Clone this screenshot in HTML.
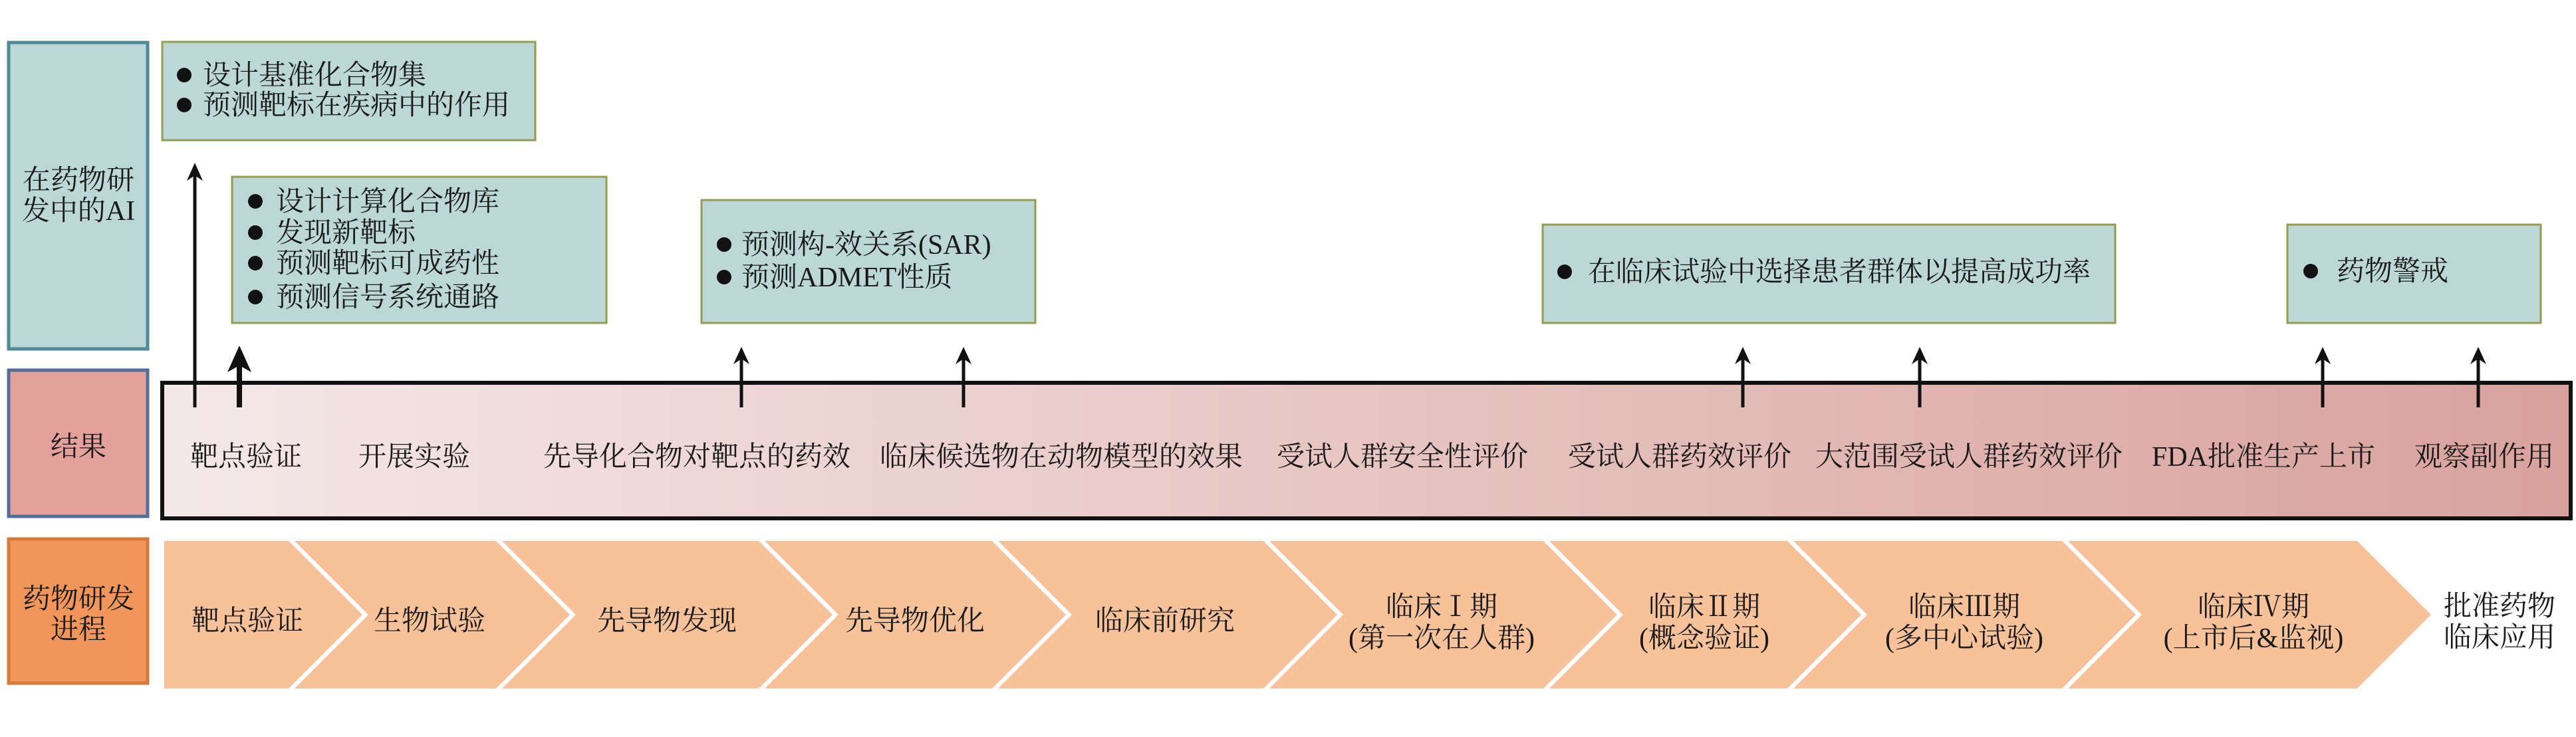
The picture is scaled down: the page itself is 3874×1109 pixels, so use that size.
<!DOCTYPE html>
<html><head><meta charset="utf-8"><style>
html,body{margin:0;padding:0;background:#fff;}
svg text{font-family:"Liberation Serif","Noto Serif CJK SC",serif;font-size:42px;fill:#1a1a1a;}
</style></head><body>
<svg width="3874" height="1104" viewBox="0 0 3874 1104" xmlns="http://www.w3.org/2000/svg">
<defs>
<linearGradient id="g" x1="0" x2="1" y1="0" y2="0">
<stop offset="0" stop-color="#f4e8e8"/><stop offset="1" stop-color="#d9a29d"/>
</linearGradient>
</defs>
<rect x="13" y="64" width="209" height="461" fill="#bcd8d6" stroke="#4c8a98" stroke-width="5"/>
<text x="118" y="285" text-anchor="middle">在药物研</text>
<text x="118" y="331" text-anchor="middle">发中的AI</text>
<rect x="13" y="557" width="209" height="220" fill="#e4a19c" stroke="#50709a" stroke-width="5"/>
<text x="118" y="686" text-anchor="middle">结果</text>
<rect x="13" y="811" width="209" height="217" fill="#f0965a" stroke="#d57a3c" stroke-width="5"/>
<text x="118" y="915" text-anchor="middle">药物研发</text>
<text x="118" y="961" text-anchor="middle">进程</text>

<g fill="#bcd8d6" stroke="#949c50" stroke-width="3">
<rect x="244" y="63" width="561" height="148"/>
<rect x="349" y="266" width="563" height="220"/>
<rect x="1055" y="301" width="502" height="185"/>
<rect x="2320" y="338" width="861" height="148"/>
<rect x="3440" y="338" width="381" height="148"/>
</g>
<g>
<circle cx="277" cy="113" r="11" fill="#111"/><text x="305" y="127">设计基准化合物集</text>
<circle cx="277" cy="158" r="11" fill="#111"/><text x="305" y="172">预测靶标在疾病中的作用</text>
<circle cx="384" cy="303" r="11" fill="#111"/><text x="415" y="317">设计计算化合物库</text>
<circle cx="384" cy="350" r="11" fill="#111"/><text x="415" y="364">发现新靶标</text>
<circle cx="384" cy="396" r="11" fill="#111"/><text x="415" y="410">预测靶标可成药性</text>
<circle cx="384" cy="447" r="11" fill="#111"/><text x="415" y="461">预测信号系统通路</text>
<circle cx="1089" cy="368" r="11" fill="#111"/><text x="1115" y="382">预测构-效关系(SAR)</text>
<circle cx="1089" cy="417" r="11" fill="#111"/><text x="1115" y="431">预测ADMET性质</text>
<circle cx="2353" cy="409" r="11" fill="#111"/><text x="2388" y="423">在临床试验中选择患者群体以提高成功率</text>
<circle cx="3475" cy="408" r="11" fill="#111"/><text x="3514" y="422">药物警戒</text>
</g>

<rect x="244" y="576" width="3622" height="204" fill="url(#g)" stroke="#111" stroke-width="6"/>
<g text-anchor="middle">
<text x="370" y="701">靶点验证</text>
<text x="623" y="701">开展实验</text>
<text x="1048" y="701">先导化合物对靶点的药效</text>
<text x="1596" y="701">临床候选物在动物模型的效果</text>
<text x="2109" y="701">受试人群安全性评价</text>
<text x="2526" y="701">受试人群药效评价</text>
<text x="2961" y="701">大范围受试人群药效评价</text>
<text x="3404" y="701">FDA批准生产上市</text>
<text x="3736" y="701">观察副作用</text>
</g>

<g stroke="#111" stroke-width="5" fill="none">
<line x1="293" y1="613" x2="293" y2="256"/>
<line x1="360" y1="613" x2="360" y2="535" stroke-width="8"/>
<line x1="1115" y1="613" x2="1115" y2="533"/>
<line x1="1449" y1="613" x2="1449" y2="533"/>
<line x1="2621" y1="613" x2="2621" y2="533"/>
<line x1="2887" y1="613" x2="2887" y2="533"/>
<line x1="3493" y1="613" x2="3493" y2="533"/>
<line x1="3727" y1="613" x2="3727" y2="533"/>
</g>
<g fill="#111">
<path d="M293 245 L281 272 L293 264 L305 272 Z"/>
<path d="M360 520 L342 560 L360 550 L378 560 Z"/>
<path d="M1115 522 L1103 548 L1115 540 L1127 548 Z"/>
<path d="M1449 522 L1437 548 L1449 540 L1461 548 Z"/>
<path d="M2621 522 L2609 548 L2621 540 L2633 548 Z"/>
<path d="M2887 522 L2875 548 L2887 540 L2899 548 Z"/>
<path d="M3493 522 L3481 548 L3493 540 L3505 548 Z"/>
<path d="M3727 522 L3715 548 L3727 540 L3739 548 Z"/>
</g>

<g fill="#f7c29a">
<path d="M247 814 L434 814 L545 925 L434 1036 L247 1036 Z"/>
<path d="M443 814 L746 814 L857 925 L746 1036 L443 1036 L554 925 Z"/>
<path d="M755 814 L1141 814 L1252 925 L1141 1036 L755 1036 L866 925 Z"/>
<path d="M1150 814 L1492 814 L1603 925 L1492 1036 L1150 1036 L1261 925 Z"/>
<path d="M1501 814 L1900 814 L2011 925 L1900 1036 L1501 1036 L1612 925 Z"/>
<path d="M1909 814 L2321 814 L2432 925 L2321 1036 L1909 1036 L2020 925 Z"/>
<path d="M2330 814 L2688 814 L2799 925 L2688 1036 L2330 1036 L2441 925 Z"/>
<path d="M2697 814 L3101 814 L3212 925 L3101 1036 L2697 1036 L2808 925 Z"/>
<path d="M3110 814 L3545 814 L3656 925 L3545 1036 L3110 1036 L3221 925 Z"/>
</g>
<g text-anchor="middle">
<text x="372" y="948">靶点验证</text>
<text x="646" y="948">生物试验</text>
<text x="1003" y="948">先导物发现</text>
<text x="1376" y="948">先导物优化</text>
<text x="1752" y="948">临床前研究</text>
<text x="2168" y="927">临床Ⅰ期</text>
<text x="2168" y="974">(第一次在人群)</text>
<text x="2563" y="927">临床Ⅱ期</text>
<text x="2563" y="974">(概念验证)</text>
<text x="2954" y="927">临床Ⅲ期</text>
<text x="2954" y="974">(多中心试验)</text>
<text x="3389" y="927">临床Ⅳ期</text>
<text x="3389" y="974">(上市后&amp;监视)</text>
<text x="3759" y="926">批准药物</text>
<text x="3759" y="973">临床应用</text>
</g>
</svg>
</body></html>
